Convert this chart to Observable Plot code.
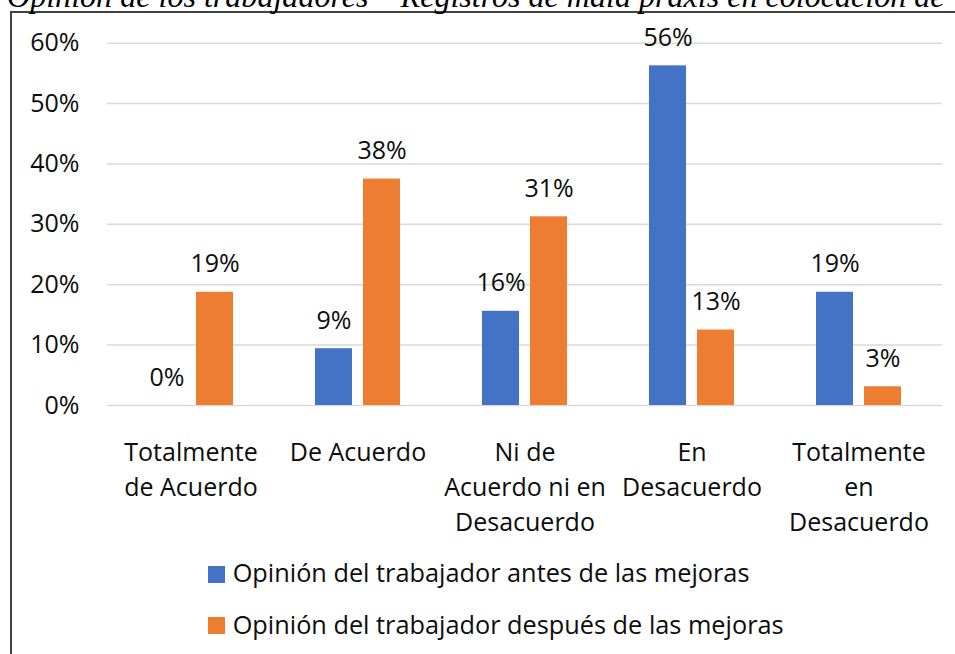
<!DOCTYPE html>
<html>
<head>
<meta charset="utf-8">
<script src="https://cdn.jsdelivr.net/npm/d3@7"></script>
<script src="https://cdn.jsdelivr.net/npm/@observablehq/plot@0.6"></script>
<style>
  html, body { margin: 0; padding: 0; background: #fff; }
  body { width: 955px; height: 654px; overflow: hidden; position: relative; font-family: "Open Sans", sans-serif; color: #0d0d0d; }
  #frame { position: absolute; left: 10px; top: 11px; width: 1000px; height: 700px; border-left: 2px solid #404040; border-top: 2px solid #404040; box-sizing: border-box; }
  #title { position: absolute; left: 7px; top: -19px; font-family: "Liberation Serif", serif; font-style: italic; white-space: nowrap; line-height: 1; font-size: 31px; color: #000; }
  #chart { position: absolute; left: 0; top: 0; }
  .swatch { position: absolute; width: 17px; height: 17px; }
  .ltext { position: absolute; font-size: 25.3px; line-height: 1; white-space: nowrap; color: #0d0d0d; }
</style>
</head>
<body>
<div id="frame"></div>
<div id="title">Opinión de los trabajadores – Registros de mala praxis en colocación de</div>
<div id="chart"></div>
<div id="legend"></div>
<script>
const categories = ["Totalmente de Acuerdo", "De Acuerdo", "Ni de Acuerdo ni en Desacuerdo", "En Desacuerdo", "Totalmente en Desacuerdo"];
const categoryLabels = ["Totalmente\nde Acuerdo", "De Acuerdo", "Ni de\nAcuerdo ni en\nDesacuerdo", "En\nDesacuerdo", "Totalmente\nen\nDesacuerdo"];
const series = ["Opinión del trabajador antes de las mejoras", "Opinión del trabajador después de las mejoras"];
const colors = ["#4472C4", "#ED7D31"];
const antes = [0, 0.094, 0.156, 0.5625, 0.1875];
const despues = [0.1875, 0.375, 0.3125, 0.125, 0.031];
const yTicks = [0, 0.1, 0.2, 0.3, 0.4, 0.5, 0.6];

const data = [];
categories.forEach((c, i) => {
  data.push({category: c, series: series[0], value: antes[i]});
  data.push({category: c, series: series[1], value: despues[i]});
});
const pct = v => Math.round(v * 100) + "%";

const chart = Plot.plot({
  width: 955,
  height: 540,
  marginLeft: 106,
  marginRight: 13,
  marginTop: 42.7,
  marginBottom: 135,
  style: {fontFamily: "Open Sans, sans-serif", fontSize: "25px", color: "#0d0d0d", background: "transparent"},
  fx: {domain: categories, padding: 0, label: null},
  x: {domain: series, paddingInner: 0.22, paddingOuter: 0.848, axis: null},
  y: {domain: [0, 0.6], label: null},
  color: {domain: series, range: colors},
  marks: [
    Plot.gridY(yTicks, {stroke: "#d9d9d9", strokeOpacity: 1, strokeWidth: 1.5}),
    Plot.axisY(yTicks, {tickFormat: pct, tickSize: 0, tickPadding: 28, fontSize: 25, label: null}),
    Plot.axisFx({anchor: "bottom", tickFormat: d => categoryLabels[categories.indexOf(d)], tickSize: 0, tickPadding: 30, lineHeight: 1.41, fontSize: 25, label: null}),
    Plot.barY(data, {fx: "category", x: "series", y: "value", fill: "series"}),
    Plot.text(data, {fx: "category", x: "series", y: "value", text: d => pct(d.value), dy: -28, lineAnchor: "middle", fontSize: 25, fill: "#0d0d0d"})
  ]
});
document.getElementById("chart").appendChild(chart);

// legend
const legend = document.getElementById("legend");
const rows = [{sq: 566, base: 582.7}, {sq: 617.3, base: 634}];
series.forEach((s, i) => {
  const sw = document.createElement("div");
  sw.className = "swatch";
  sw.style.left = "208px";
  sw.style.top = rows[i].sq + "px";
  sw.style.background = colors[i];
  legend.appendChild(sw);
  const t = document.createElement("div");
  t.className = "ltext";
  t.textContent = s;
  t.style.left = "232.7px";
  t.style.top = (rows[i].base - 0.888 * 25.3) + "px";
  legend.appendChild(t);
});

// fit title width
const title = document.getElementById("title");
const w = title.getBoundingClientRect().width;
const fs = 31 * 938 / w;
title.style.fontSize = fs + "px";
title.style.top = (7 - 0.8375 * fs) + "px";
</script>
</body>
</html>
